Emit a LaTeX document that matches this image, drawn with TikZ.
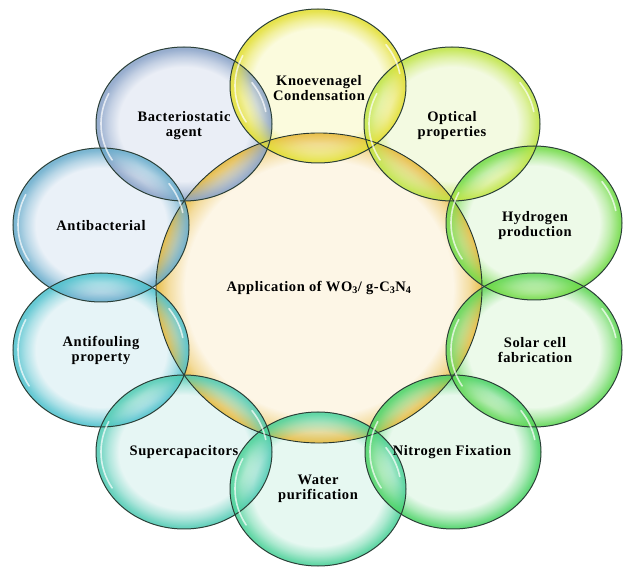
\documentclass[tikz,border=0pt]{standalone}
\usepackage{fontspec}
\newfontfamily\labfont{Liberation Serif}[LetterSpace=4.0]
\definecolor{edgec}{HTML}{2B4038}
\definecolor{cIn}{HTML}{FDF6E6}\definecolor{cRim}{HTML}{E6B632}
\definecolor{kIn}{HTML}{FBFBDA}\definecolor{kRim}{HTML}{E2DE2E}
\definecolor{oIn}{HTML}{F2FADE}\definecolor{oRim}{HTML}{BEE440}
\definecolor{hIn}{HTML}{ECFAE6}\definecolor{hRim}{HTML}{6EDA42}
\definecolor{sIn}{HTML}{EAFAE8}\definecolor{sRim}{HTML}{5CD652}
\definecolor{nIn}{HTML}{E6F9EA}\definecolor{nRim}{HTML}{46D262}
\definecolor{wIn}{HTML}{E4F8F0}\definecolor{wRim}{HTML}{46D096}
\definecolor{pIn}{HTML}{E4F6F3}\definecolor{pRim}{HTML}{4CCAB2}
\definecolor{fIn}{HTML}{E4F3F7}\definecolor{fRim}{HTML}{4AC0CC}
\definecolor{aIn}{HTML}{E8F0F8}\definecolor{aRim}{HTML}{64AACA}
\definecolor{bIn}{HTML}{E8EDF6}\definecolor{bRim}{HTML}{86A0C6}
% fading: transparent inside, opaque at the rim
\pgfdeclareradialshading{rimfadesh}{\pgfpointorigin}{color(0bp)=(black); color(18.5bp)=(black); color(21.5bp)=(black!55!white); color(24.3bp)=(white); color(50bp)=(white)}
\pgfdeclarefading{rimfade}{\pgfuseshading{rimfadesh}}
\pgfdeclareradialshading{crimfadesh}{\pgfpointorigin}{color(0bp)=(black); color(20.5bp)=(black); color(23bp)=(black!55!white); color(25bp)=(white); color(50bp)=(white)}
\pgfdeclarefading{crimfade}{\pgfuseshading{crimfadesh}}
\tikzset{
  rimglow/.style={fill=#1, path fading=rimfade, fill opacity=0.82},
  rimline/.style={draw=edgec, line width=1pt},
  gloss/.style={draw=white, line width=1.6pt, opacity=0.7, line cap=round},
  lab/.style={font=\labfont\bfseries\fontsize{14.5}{15}\selectfont, align=center, text=black, inner sep=0pt}
}
\begin{document}
\begin{tikzpicture}[x=1pt,y=-1pt]
\useasboundingbox[fill=white] (0,0) rectangle (638,577);
\coordinate (cC) at (319,288);
\coordinate (cK) at (318,86);
\coordinate (cO) at (452,124);
\coordinate (cH) at (534,223);
\coordinate (cS) at (534,350);
\coordinate (cN) at (453,452);
\coordinate (cW) at (318,489);
\coordinate (cP) at (184,452);
\coordinate (cF) at (101,350);
\coordinate (cA) at (101,225);
\coordinate (cB) at (184,124);
% central disc
\fill[cIn] (cC) ellipse[x radius=163, y radius=155];
% outer bubble bodies
\foreach \n/\c in {B/bIn,A/aIn,F/fIn,P/pIn,W/wIn,N/nIn,S/sIn,H/hIn,O/oIn,K/kIn}{
  \fill[\c, fill opacity=0.9] (c\n) ellipse[x radius=88, y radius=77];
}
% central rim glow
\fill[cRim, path fading=crimfade, fill opacity=0.88] (cC) ellipse[x radius=163, y radius=155];
% outer rim glows
\foreach \n/\c in {B/bRim,A/aRim,F/fRim,P/pRim,W/wRim,N/nRim,S/sRim,H/hRim,O/oRim,K/kRim}{
  \fill[rimglow=\c] (c\n) ellipse[x radius=88, y radius=77];
}
% outlines
\draw[draw=edgec!85!black, line width=0.9pt] (cC) ellipse[x radius=163, y radius=155];
\foreach \n in {B,A,F,P,W,N,S,H,O,K}{
  \draw[rimline] (c\n) ellipse[x radius=88, y radius=77];
}
% gloss highlights
\foreach \n in {B,A,F,P,W,N,S,H,O,K}{
  \draw[gloss] (c\n) ++(150:83 and 72) arc[start angle=150, end angle=205, x radius=83, y radius=72];
  \draw[gloss] (c\n) ++(-35:83 and 72) arc[start angle=-35, end angle=-10, x radius=83, y radius=72];
}
% labels
\node[lab] (tC) at (319,288) {Application of WO\textsubscript{3}/ g-C\textsubscript{3}N\textsubscript{4}};
\node[lab] (tK) at (319,88) {Knoevenagel\\Condensation};
\node[lab] (tO) at (452,126) {Optical\\properties};
\node[lab] (tH) at (535,226) {Hydrogen\\production};
\node[lab] (tS) at (535,350) {Solar cell\\fabrication};
\node[lab] (tN) at (452,452) {Nitrogen Fixation};
\node[lab] (tW) at (318,489) {Water\\purification};
\node[lab] (tP) at (184,452) {Supercapacitors};
\node[lab] (tF) at (101,350) {Antifouling\\property};
\node[lab] (tA) at (101,226) {Antibacterial};
\node[lab] (tB) at (184,126) {Bacteriostatic\\agent};
\end{tikzpicture}
\end{document}
